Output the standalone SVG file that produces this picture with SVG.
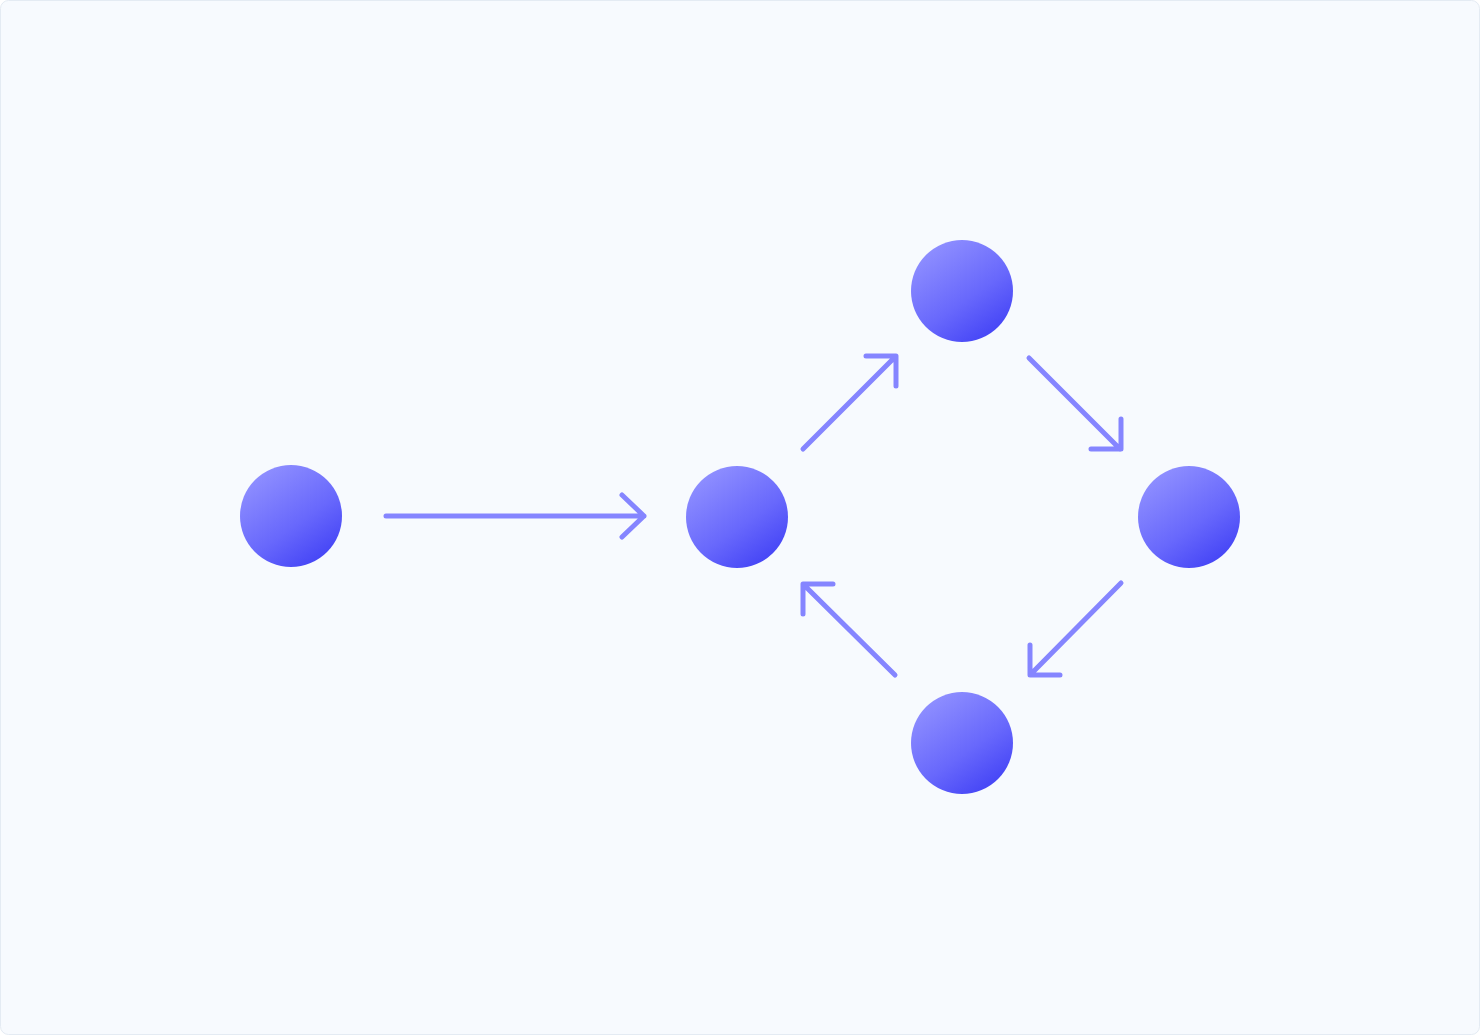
<svg xmlns="http://www.w3.org/2000/svg" width="1480" height="1035" viewBox="0 0 1480 1035">
<style>
.node{fill:url(#g)}
.edge{fill:none;stroke:#8585ff;stroke-width:5;stroke-linecap:round;stroke-linejoin:round}
</style>
<defs>
<linearGradient id="g" x1="0.15" y1="0.1" x2="0.75" y2="0.95">
<stop offset="0" stop-color="#8f8fff"/>
<stop offset="0.6" stop-color="#6868fc"/>
<stop offset="1" stop-color="#4646f6"/>
</linearGradient>
</defs>
<rect x="0.5" y="0.5" width="1479" height="1034" rx="8" fill="#f7fafe" stroke="#e4ebf3"/>
<g id="connectors">
<path class="edge" d="M386 516H644M622 495L644 516L622 537"/>
<path class="edge" d="M803 449L895 357M866 356H896V386"/>
<path class="edge" d="M1029 358L1120 449M1121 419V449H1091"/>
<path class="edge" d="M1121 583L1031 674M1030 645V675H1060"/>
<path class="edge" d="M895 675L804 585M803 614V584H833"/>
</g>
<g id="n1"><circle class="node" cx="291" cy="516" r="51"/></g>
<g id="n2"><circle class="node" cx="737" cy="517" r="51"/></g>
<g id="n3"><circle class="node" cx="962" cy="291" r="51"/></g>
<g id="n4"><circle class="node" cx="1189" cy="517" r="51"/></g>
<g id="n5"><circle class="node" cx="962" cy="743" r="51"/></g>
</svg>
